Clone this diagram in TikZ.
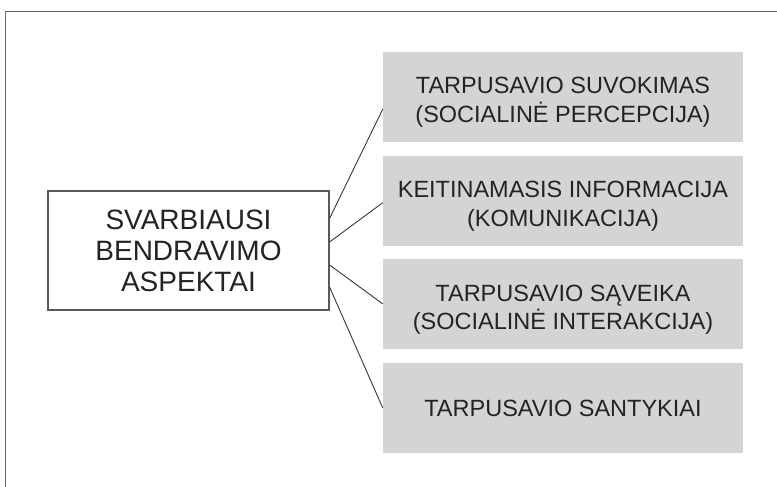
\documentclass[tikz,border=0pt]{standalone}
\usepackage{fontspec}
\setmainfont{Liberation Sans}
\usetikzlibrary{positioning}
\definecolor{frmgray}{RGB}{105,105,105}
\definecolor{boxline}{RGB}{90,90,90}
\definecolor{itemgray}{RGB}{212,212,212}
\definecolor{txtdark}{RGB}{35,35,35}
\definecolor{linkgray}{RGB}{55,55,55}
\newcommand{\topstrut}{\rule{0pt}{27pt}}

\begin{document}
\begin{tikzpicture}[x=1pt,y=-1pt,
  node distance=13.3pt,
  main/.style={draw=boxline,line width=1.1pt,fill=white,minimum width=281pt,minimum height=119pt,
               align=center,inner sep=0pt,text=txtdark,font=\fontsize{28}{31}\selectfont},
  item/.style={fill=itemgray,minimum width=360pt,minimum height=90pt,
               align=center,inner sep=0pt,text=txtdark,font=\fontsize{23.5}{28.5}\selectfont},
  link/.style={draw=linkgray,line width=0.9pt}]

  \useasboundingbox (0,0) rectangle (777,487);
  \draw[frmgray,line width=1.5pt] (777,11.5) -- (5.5,11.5) -- (5.5,487);

  \node[main] (aspektai) at (188.5,250.5) {SVARBIAUSI\\BENDRAVIMO\\ASPEKTAI};

  \node[item] (suvok) at (563,97) {\topstrut TARPUSAVIO SUVOKIMAS\\(SOCIALINĖ PERCEPCIJA)};
  \node[item,below=of suvok] (komun) {\topstrut KEITINAMASIS INFORMACIJA\\(KOMUNIKACIJA)};
  \node[item,below=of komun] (saveik) {\topstrut TARPUSAVIO SĄVEIKA\\(SOCIALINĖ INTERAKCIJA)};
  \node[item,below=of saveik] (santyk) {TARPUSAVIO SANTYKIAI};

  \draw[link] ([yshift=32pt]aspektai.east) -- ([yshift=-12pt]suvok.west);
  \draw[link] ([yshift=8.5pt]aspektai.east) -- ([yshift=-2pt]komun.west);
  \draw[link] ([yshift=-14.5pt]aspektai.east) -- ([yshift=0.5pt]saveik.west);
  \draw[link] ([yshift=-36.5pt]aspektai.east) -- (santyk.west);
\end{tikzpicture}
\end{document}
